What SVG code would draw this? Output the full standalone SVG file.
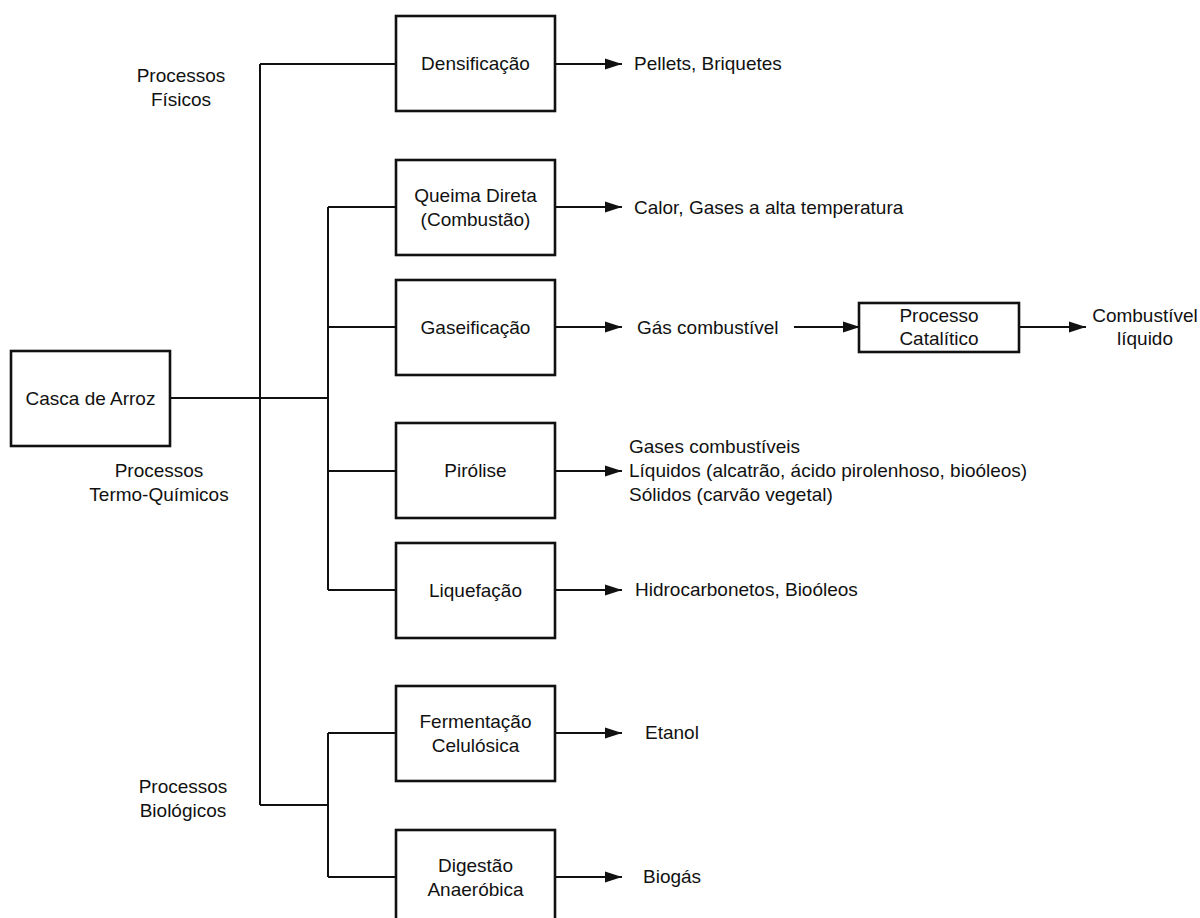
<svg xmlns="http://www.w3.org/2000/svg" width="1200" height="918" viewBox="0 0 1200 918">
  <style>
    .box { fill: #ffffff; stroke: #111111; stroke-width: 2.6; }
    .ln { fill: none; stroke: #111111; stroke-width: 2; }
    .ar { fill: none; stroke: #111111; stroke-width: 2; marker-end: url(#arrow); }
    text { font-family: "Liberation Sans", Arial, Helvetica, sans-serif; font-size: 19px; fill: #111111; }
    .c { text-anchor: middle; }
  </style>
  <defs>
    <marker id="arrow" markerUnits="userSpaceOnUse" markerWidth="18" markerHeight="12" refX="17" refY="6" orient="auto">
      <path d="M0,0.5 L17,6 L0,11.5 z" fill="#111111"/>
    </marker>
  </defs>
  <rect width="1200" height="918" fill="#ffffff"/>

  <g id="connectors">
    <path class="ln" d="M170,398 H328"/>
    <path class="ln" d="M260,64 V805"/>
    <path class="ln" d="M260,64 H396"/>
    <path class="ln" d="M328,207 V590"/>
    <path class="ln" d="M328,207 H396"/>
    <path class="ln" d="M328,327 H396"/>
    <path class="ln" d="M328,471 H396"/>
    <path class="ln" d="M328,590 H396"/>
    <path class="ln" d="M260,805 H328"/>
    <path class="ln" d="M328,733 V877"/>
    <path class="ln" d="M328,733 H396"/>
    <path class="ln" d="M328,877 H396"/>
    <path class="ar" d="M555,64 H622"/>
    <path class="ar" d="M555,207 H622"/>
    <path class="ar" d="M555,327 H622"/>
    <path class="ar" d="M555,471 H622"/>
    <path class="ar" d="M555,590 H622"/>
    <path class="ar" d="M555,733 H622"/>
    <path class="ar" d="M555,877 H622"/>
    <path class="ar" d="M794,327 H860"/>
    <path class="ar" d="M1019,327 H1086"/>
  </g>

  <g id="labels">
    <text class="c" x="181" y="82">Processos</text>
    <text class="c" x="181" y="106">Físicos</text>
    <text class="c" x="159" y="477">Processos</text>
    <text class="c" x="159" y="501">Termo-Químicos</text>
    <text class="c" x="183" y="793">Processos</text>
    <text class="c" x="183" y="817">Biológicos</text>
  </g>

  <g id="casca">
    <rect class="box" x="11" y="351" width="159" height="95"/>
    <text class="c" x="90.5" y="405">Casca de Arroz</text>
  </g>

  <g id="densificacao">
    <rect class="box" x="396" y="16" width="159" height="95"/>
    <text class="c" x="475.5" y="70">Densificação</text>
  </g>
  <g id="out-densificacao">
    <text x="634" y="70">Pellets, Briquetes</text>
  </g>

  <g id="queima">
    <rect class="box" x="396" y="160" width="159" height="95"/>
    <text class="c" x="475.5" y="202">Queima Direta</text>
    <text class="c" x="475.5" y="226">(Combustão)</text>
  </g>
  <g id="out-queima">
    <text x="634" y="214">Calor, Gases a alta temperatura</text>
  </g>

  <g id="gaseificacao">
    <rect class="box" x="396" y="280" width="159" height="95"/>
    <text class="c" x="475.5" y="334">Gaseificação</text>
  </g>
  <g id="gas-combustivel">
    <text x="637" y="334">Gás combustível</text>
  </g>
  <g id="processo-catalitico">
    <rect class="box" x="859" y="303" width="160" height="49"/>
    <text class="c" x="939" y="322">Processo</text>
    <text class="c" x="939" y="345">Catalítico</text>
  </g>
  <g id="combustivel-liquido">
    <text class="c" x="1145" y="322">Combustível</text>
    <text class="c" x="1145" y="345">líquido</text>
  </g>

  <g id="pirolise">
    <rect class="box" x="396" y="423" width="159" height="95"/>
    <text class="c" x="475.5" y="477">Pirólise</text>
  </g>
  <g id="out-pirolise">
    <text x="629" y="453">Gases combustíveis</text>
    <text x="629" y="477">Líquidos (alcatrão, ácido pirolenhoso, bioóleos)</text>
    <text x="629" y="501">Sólidos (carvão vegetal)</text>
  </g>

  <g id="liquefacao">
    <rect class="box" x="396" y="543" width="159" height="95"/>
    <text class="c" x="475.5" y="597">Liquefação</text>
  </g>
  <g id="out-liquefacao">
    <text x="635" y="596">Hidrocarbonetos, Bioóleos</text>
  </g>

  <g id="fermentacao">
    <rect class="box" x="396" y="686" width="159" height="95"/>
    <text class="c" x="475.5" y="728">Fermentação</text>
    <text class="c" x="475.5" y="752">Celulósica</text>
  </g>
  <g id="out-fermentacao">
    <text x="645" y="739">Etanol</text>
  </g>

  <g id="digestao">
    <rect class="box" x="396" y="830" width="159" height="95"/>
    <text class="c" x="475.5" y="872">Digestão</text>
    <text class="c" x="475.5" y="896">Anaeróbica</text>
  </g>
  <g id="out-digestao">
    <text x="643" y="883">Biogás</text>
  </g>
</svg>
